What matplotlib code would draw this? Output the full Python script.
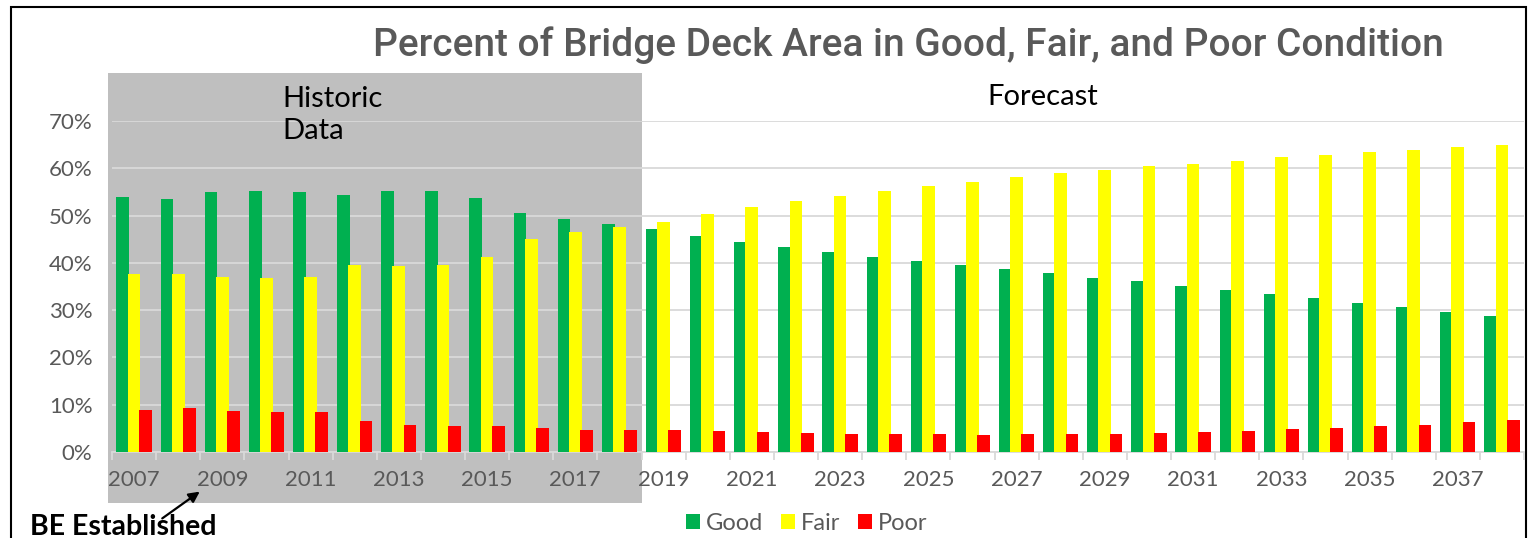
'''
    Percent of bridge deck area in good, fair and poor condition
'''

# - Imports

import matplotlib
matplotlib.use("Agg")
import matplotlib.pyplot as plt
import numpy as np
from matplotlib.patches import Rectangle, FancyArrowPatch
from matplotlib.ticker import PercentFormatter

# - Data

years = list(range(2007, 2039))

good = [53.9, 53.5, 54.9, 55.2, 54.9, 54.4, 55.3, 55.3, 53.7, 50.6, 49.2, 48.3,
        47.2, 45.7, 44.5, 43.4, 42.3, 41.3, 40.4, 39.6, 38.7, 37.8, 36.9, 36.1,
        35.2, 34.3, 33.5, 32.5, 31.5, 30.6, 29.6, 28.7]
fair = [37.7, 37.7, 37.0, 36.7, 37.1, 39.5, 39.4, 39.5, 41.2, 45.0, 46.6, 47.5,
        48.7, 50.3, 51.8, 53.1, 54.2, 55.3, 56.3, 57.2, 58.1, 58.9, 59.6, 60.4,
        61.0, 61.6, 62.3, 62.9, 63.5, 63.9, 64.5, 65.0]
poor = [8.8, 9.2, 8.7, 8.5, 8.5, 6.5, 5.8, 5.6, 5.6, 5.0, 4.6, 4.6,
        4.7, 4.4, 4.2, 4.0, 3.9, 3.8, 3.8, 3.7, 3.8, 3.9, 3.9, 4.1,
        4.3, 4.5, 4.8, 5.1, 5.5, 5.8, 6.3, 6.8]

# - Plot

W, H = 1529, 538
fig = plt.figure(figsize=(W / 100, H / 100), dpi=100)
plt.rcParams['font.family'] = ['Lato', 'DejaVu Sans']

def px(x, y):
    '''Pixel position (from top left) to figure fraction'''
    return x / W, 1 - y / H

# Outer border
fig.add_artist(Rectangle(px(11, 545), (1526 - 11) / W, (545 - 7) / H,
                         transform=fig.transFigure, fill=False,
                         edgecolor="black", linewidth=1.5, zorder=-2))

# Grey box behind historic data
fig.add_artist(Rectangle(px(108, 503), (642 - 108) / W, (503 - 73) / H,
                         transform=fig.transFigure, facecolor="#BFBFBF",
                         edgecolor="none", zorder=-1))

left, bottom = px(112, 452)
right, top = px(1524, 121)
axes = fig.add_axes([left, bottom, right - left, top - bottom])
axes.patch.set_visible(False)

x = np.arange(len(years))
width = 0.29
step = 0.255
axes.bar(x - step, good, width, color="#00B050", label="Good", zorder=3)
axes.bar(x, fair, width, color="#FFFF00", label="Fair", zorder=3)
axes.bar(x + step, poor, width, color="#FF0000", label="Poor", zorder=3)

axes.set_xlim(-0.5, len(years) - 0.5)
axes.set_ylim(0, 70)
axes.set_yticks(range(0, 71, 10))
axes.yaxis.set_major_formatter(PercentFormatter(decimals=0))
axes.grid(axis="y", color="#D9D9D9", linewidth=1.3, zorder=0)

# Odd years labelled at centres, tick marks between categories
axes.set_xticks(x[::2])
axes.set_xticklabels([str(y) for y in years[::2]])
axes.set_xticks(np.arange(-0.5, len(years), 1), minor=True)
axes.tick_params(axis="x", which="major", length=0, pad=13, labelsize=16,
                 labelcolor="#595959")
axes.tick_params(axis="x", which="minor", length=6, color="#D9D9D9", width=1.3)
axes.tick_params(axis="y", length=0, pad=14, labelsize=16, labelcolor="#595959")

for side in ["top", "right", "left"]:
    axes.spines[side].set_visible(False)
axes.spines["bottom"].set_color("#D9D9D9")
axes.spines["bottom"].set_linewidth(1.3)

# Texts
fig.text(*px(908, 45), "Percent of Bridge Deck Area in Good, Fair, and Poor Condition",
         ha="center", va="center", fontsize=28, fontweight="medium", color="#595959",
         family=["Roboto", "DejaVu Sans"])
fig.text(*px(282, 115), "Historic\nData", ha="left", va="center", fontsize=21,
         color="black", linespacing=1.3)
fig.text(*px(1043, 97), "Forecast", ha="center", va="center", fontsize=21,
         color="black")
fig.text(*px(30, 527), "BE Established", ha="left", va="center", fontsize=20.5,
         fontweight="bold", color="black")

fig.add_artist(FancyArrowPatch(px(160, 520), px(202, 490), transform=fig.transFigure,
                               arrowstyle="-|>", mutation_scale=16,
                               color="black", linewidth=1.6))

fig.legend(loc="center", bbox_to_anchor=px(807, 523), ncol=3, frameon=False,
           fontsize=17, handlelength=0.6, handleheight=0.6, handletextpad=0.25,
           columnspacing=0.75, labelcolor="#595959")

fig.savefig("out.png", dpi=100)
